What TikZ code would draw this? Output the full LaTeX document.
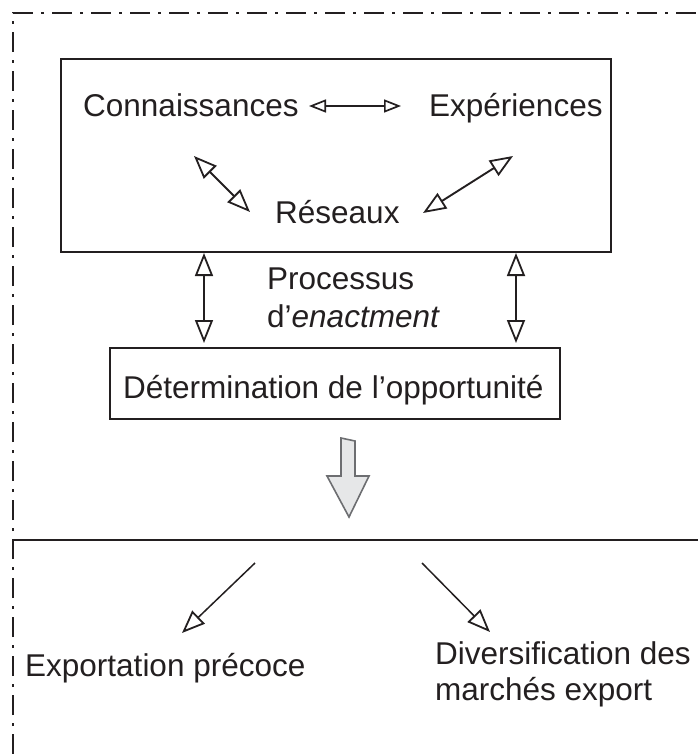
\documentclass[tikz,border=0pt]{standalone}
\usepackage{fontspec}
\setmainfont{Liberation Sans}
\usetikzlibrary{arrows.meta}
\definecolor{ink}{HTML}{231F20}
\definecolor{arrgray}{HTML}{6D6E71}
\definecolor{arrfill}{HTML}{E6E7E8}
\begin{document}
\begin{tikzpicture}[x=1pt,y=-1pt,
  txt/.style={font=\fontsize{31.5}{38}\selectfont, text=ink, inner sep=0pt, anchor=base west},
  boxst/.style={draw=ink, line width=1.7pt, inner sep=0pt},
  otip/.tip={Triangle[open,length=23pt,width=18pt,line width=1.8pt]},
  stip/.tip={Triangle[open,length=17pt,width=13pt,line width=1.7pt]},
  dbl/.style={draw=ink, line width=1.9pt, otip-otip},
  hdbl/.style={draw=ink, line width=1.7pt, stip-stip},
  sgl/.style={draw=ink, line width=1.5pt, -otip},
  border/.style={draw=ink, line width=1.8pt, dash pattern=on 20pt off 8pt on 3pt off 8pt}
]
\useasboundingbox (0,0) rectangle (698,754);
% outer dash-dot border and separator
\coordinate (bl) at (13,754);
\coordinate (tl) at (13,13);
\coordinate (tr) at (698,13);
\draw[border] (bl) -- (tl) -- (tr);
\coordinate (sepl) at (13,540);
\coordinate (sepr) at (698,540);
\draw[draw=ink, line width=1.7pt] (sepl) -- (sepr);

% top box
\node[boxst, minimum width=550pt, minimum height=193pt] (topbox) at (336,155.5) {};
\node[txt] (con) at (83,117) {Connaissances};
\node[txt] (exp) at (429,117) {Expériences};
\node[txt] (res) at (275,223) {Réseaux};
\coordinate (h1) at (309,106);
\coordinate (h2) at (401,106);
\draw[hdbl] (h1) -- (h2);
\coordinate (dl1) at (194,156);
\coordinate (dl2) at (250,212);
\draw[dbl] (dl1) -- (dl2);
\coordinate (dr1) at (513,156);
\coordinate (dr2) at (423,213);
\draw[dbl] (dr1) -- (dr2);

% process label
\node[txt] (proc1) at (267,289) {Processus};
\node[txt] (proc2) at (267,327) {d’\textit{enactment}};

% lower box
\node[boxst, minimum width=450pt, minimum height=71pt] (detbox) at (335,383.5) {};
\node[txt] (det) at (123,398) {Détermination de l’opportunité};

\coordinate (va1) at (204,253);
\coordinate (vb1) at (204,343);
\draw[dbl] (va1) -- (vb1);
\coordinate (va2) at (516,253);
\coordinate (vb2) at (516,343);
\draw[dbl] (va2) -- (vb2);

% block arrow
\draw[draw=arrgray, fill=arrfill, line width=1.6pt, line join=miter]
  (341,438) -- (355,441) -- (355,476) -- (369,476) -- (349,517) -- (327,476) -- (341,476) -- cycle;
\coordinate (blk) at (349,517);

% outcomes
\node[txt] (out1) at (25,676) {Exportation précoce};
\node[txt] (out2) at (435,664) {Diversification des};
\node[txt] (out3) at (435,700) {marchés export};
\coordinate (bl1) at (255,563);
\coordinate (bl2) at (182,633);
\draw[sgl] (bl1) -- (bl2);
\coordinate (br1) at (422,563);
\coordinate (br2) at (490,632);
\draw[sgl] (br1) -- (br2);
\end{tikzpicture}
\end{document}
